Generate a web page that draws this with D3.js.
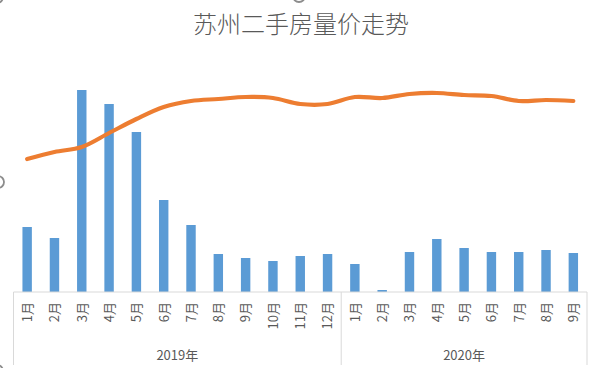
<!DOCTYPE html>
<html><head><meta charset="utf-8">
<script src="https://cdn.jsdelivr.net/npm/d3@7/dist/d3.min.js"></script>
<style>body{margin:0;background:#fff;}svg{display:block;font-family:"Noto Sans CJK SC","Microsoft YaHei",sans-serif;}</style>
</head><body>
<script>
const title = "苏州二手房量价走势";
const years = ["2019年", "2020年"];
const months2019 = ["1月","2月","3月","4月","5月","6月","7月","8月","9月","10月","11月","12月"];
const months2020 = ["1月","2月","3月","4月","5月","6月","7月","8月","9月"];
// transaction volume (bars)
const volume = [6500,5400,20200,18800,16000,9200,6700,3800,3400,3100,3600,3800,
                2800,200,4000,5300,4400,4000,4000,4200,3900];
// average price (line)
const price = [20640,21200,21600,22720,23840,24800,25280,25440,25600,25520,25040,25040,
               25600,25520,25840,25920,25760,25680,25280,25360,25280];

(function(){
const W = 595, H = 368;
const svg = d3.select("body").append("svg").attr("width", W).attr("height", H);

const cats = [];
months2019.forEach(m => cats.push({year: years[0], month: m}));
months2020.forEach(m => cats.push({year: years[1], month: m}));
cats.forEach((c, i) => { c.key = i; c.v = volume[i]; c.p = price[i]; });

const pLeft = 13.5, pRight = 587, base = 292, pTop = 42;
const x = d3.scaleBand().domain(cats.map(c => c.key)).range([pLeft, pRight]).padding(0);
const y = d3.scaleLinear().domain([0, 25000]).range([base, pTop]);
const y2 = d3.scaleLinear().domain([10000, 30000]).range([base, pTop]);

// title
svg.append("text").attr("x", 301).attr("y", 33).attr("text-anchor", "middle")
  .attr("font-size", 24).attr("font-weight", 300).attr("fill", "#595959").text(title);

// bars
const bw = x.bandwidth() * 0.345;
svg.append("g").selectAll("rect").data(cats).join("rect")
  .attr("x", d => x(d.key) + x.bandwidth()/2 - bw/2)
  .attr("width", bw)
  .attr("y", d => y(d.v))
  .attr("height", d => base - y(d.v))
  .attr("fill", "#5B9BD5");

// line
const line = d3.line().x(d => x(d.key) + x.bandwidth()/2).y(d => y2(d.p)).curve(d3.curveCatmullRom.alpha(0.5));
svg.append("path").datum(cats).attr("d", line).attr("fill", "none")
  .attr("stroke", "#ED7D31").attr("stroke-width", 4.2).attr("stroke-linecap", "round").attr("stroke-linejoin", "round");

// axis
const ax = svg.append("g");
ax.append("line").attr("x1", pLeft).attr("x2", pRight).attr("y1", base).attr("y2", base)
  .attr("stroke", "#d9d9d9").attr("stroke-width", 1);
const sep = x(months2019.length);
[pLeft, sep, pRight].forEach(px => {
  ax.append("line").attr("x1", px).attr("x2", px).attr("y1", base).attr("y2", 365)
    .attr("stroke", "#d9d9d9").attr("stroke-width", 1);
});
ax.selectAll("text.m").data(cats).join("text").attr("class", "m")
  .attr("transform", d => `translate(${x(d.key) + x.bandwidth()/2 + 4.8},302) rotate(-90)`)
  .attr("text-anchor", "end").attr("font-size", 13).attr("fill", "#595959")
  .text(d => d.month);
const groups = [{label: years[0], x0: pLeft, x1: sep}, {label: years[1], x0: sep, x1: pRight}];
ax.selectAll("text.y").data(groups).join("text").attr("class", "y")
  .attr("x", d => (d.x0 + d.x1)/2).attr("y", 360).attr("text-anchor", "middle")
  .attr("font-size", 13).attr("fill", "#595959").text(d => d.label);

// selection handles
[[-2, 182], [299, -4], [-3, -3], [-3, 371]].forEach(([cx, cy]) => {
  svg.append("circle").attr("cx", cx).attr("cy", cy).attr("r", 6)
    .attr("fill", "#fff").attr("stroke", "#8c8c8c").attr("stroke-width", 1.8);
});
})();
</script>
</body></html>
